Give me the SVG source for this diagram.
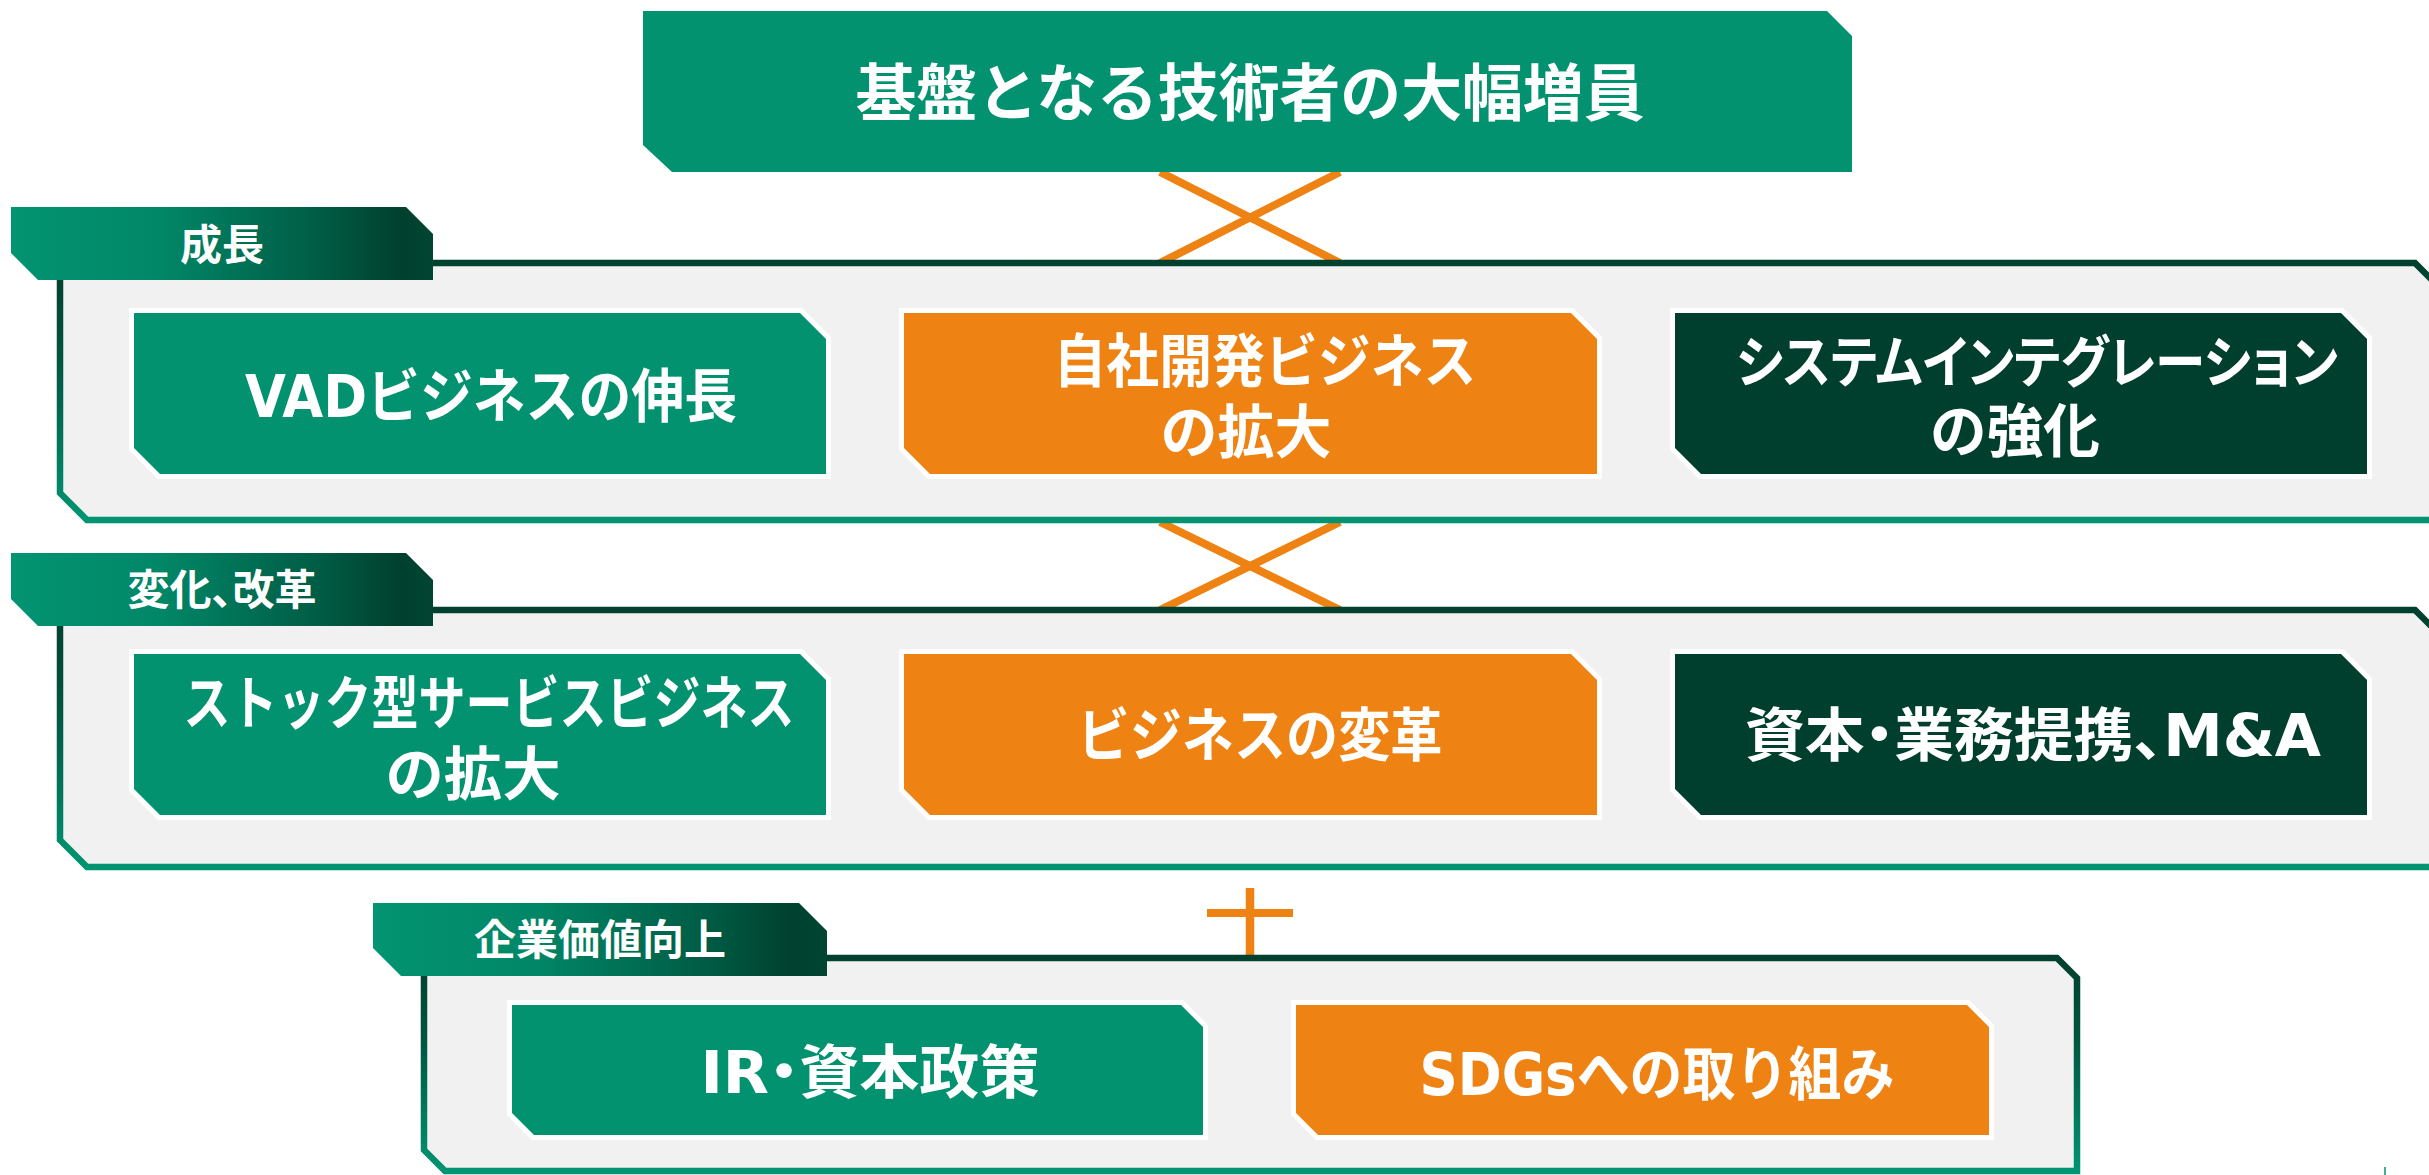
<svg xmlns="http://www.w3.org/2000/svg" width="2429" height="1175" viewBox="0 0 2429 1175">
  <defs>
    <linearGradient id="frameGrad" x1="0" y1="0" x2="0" y2="1">
      <stop offset="0" stop-color="#00402E"/>
      <stop offset="0.35" stop-color="#00533D"/>
      <stop offset="1" stop-color="#009472"/>
    </linearGradient>
    <linearGradient id="tabGrad" x1="0" y1="0" x2="1" y2="0">
      <stop offset="0" stop-color="#039472"/>
      <stop offset="0.35" stop-color="#018767"/>
      <stop offset="0.75" stop-color="#005A43"/>
      <stop offset="0.92" stop-color="#00402E"/>
      <stop offset="1" stop-color="#004532"/>
    </linearGradient>
    <style>
      .frame { fill: #F1F1F1; stroke: url(#frameGrad); stroke-width: 6.5; }
      .tab { fill: url(#tabGrad); }
      .box { stroke: #FFFFFF; stroke-width: 10; paint-order: stroke; stroke-linejoin: miter; }
      .teal { fill: #02926F; }
      .orange { fill: #EE8313; }
      .dark { fill: #003F2D; }
      .t { font-family: "Noto Sans CJK JP", "Noto Sans", sans-serif; font-weight: 700; fill: #FFFFFF; text-anchor: middle; }
      .title { font-size: 62px; }
      .tabt { font-size: 42px; }
      .bt { font-size: 58px; font-family: "DejaVu Sans", "Noto Sans CJK JP", sans-serif; }
      .palt { font-feature-settings: "palt" 1; }
      .conn { stroke: #EE8313; stroke-width: 8; fill: none; }
    </style>
  </defs>

  <g id="connectors">
    <line class="conn" x1="1160" y1="172" x2="1340" y2="263"/>
    <line class="conn" x1="1340" y1="172" x2="1160" y2="263"/>
    <line class="conn" x1="1160" y1="522" x2="1340" y2="610"/>
    <line class="conn" x1="1340" y1="522" x2="1160" y2="610"/>
    <line class="conn" x1="1250" y1="888" x2="1250" y2="958" style="stroke-width:8.5"/>
    <line class="conn" x1="1207" y1="913" x2="1293" y2="913"/>
  </g>

  <g id="top-box">
    <polygon class="teal" points="643,11 1827,11 1852,36 1852,172 672,172 643,145"/>
    <text class="t title" x="1250" y="116" textLength="789" lengthAdjust="spacingAndGlyphs">基盤となる技術者の大幅増員</text>
  </g>

  <g id="section-growth">
    <polygon class="frame" points="60,263 2415,263 2442,290 2442,520 87,520 60,493"/>
    <polygon class="tab" points="11,207 406,207 433,234 433,280 38,280 11,253"/>
    <text class="t tabt" x="222" y="260">成長</text>
  </g>
  <g id="node-vad">
    <polygon class="box teal" points="134,313 800,313 826,339 826,474 160,474 134,448"/>
    <text class="t bt" x="491" y="417" textLength="492" lengthAdjust="spacingAndGlyphs">VADビジネスの伸長</text>
  </g>
  <g id="node-own-dev">
    <polygon class="box orange" points="904,313 1571,313 1597,339 1597,474 930,474 904,448"/>
    <text class="t bt" x="1265" y="382" textLength="423" lengthAdjust="spacingAndGlyphs">自社開発ビジネス</text>
    <text class="t bt" x="1246" y="453" textLength="171" lengthAdjust="spacingAndGlyphs">の拡大</text>
  </g>
  <g id="node-si">
    <polygon class="box dark" points="1675,313 2341,313 2367,339 2367,474 1701,474 1675,448"/>
    <text class="t bt palt" x="2037" y="382" style="font-size:56px" textLength="602" lengthAdjust="spacingAndGlyphs">システムインテグレーション</text>
    <text class="t bt" x="2015" y="452" textLength="170" lengthAdjust="spacingAndGlyphs">の強化</text>
  </g>

  <g id="section-change">
    <polygon class="frame" points="60,610 2415,610 2442,637 2442,867 87,867 60,840"/>
    <polygon class="tab" points="11,553 406,553 433,580 433,626 38,626 11,599"/>
    <text class="t tabt palt" x="222" y="605">変化、改革</text>
  </g>
  <g id="node-stock">
    <polygon class="box teal" points="134,654 800,654 826,680 826,815 160,815 134,789"/>
    <text class="t bt" x="489" y="724" textLength="611" lengthAdjust="spacingAndGlyphs">ストック型サービスビジネス</text>
    <text class="t bt" x="473" y="795" textLength="175" lengthAdjust="spacingAndGlyphs">の拡大</text>
  </g>
  <g id="node-reform">
    <polygon class="box orange" points="904,654 1571,654 1597,680 1597,815 930,815 904,789"/>
    <text class="t bt" x="1260" y="756" textLength="365" lengthAdjust="spacingAndGlyphs">ビジネスの変革</text>
  </g>
  <g id="node-alliance">
    <polygon class="box dark" points="1675,654 2341,654 2367,680 2367,815 1701,815 1675,789"/>
    <text class="t bt palt" x="2033" y="756" textLength="576" lengthAdjust="spacingAndGlyphs">資本・業務提携、M&amp;A</text>
  </g>

  <g id="section-value">
    <polygon class="frame" points="424,958 2057,958 2077,978 2077,1171 445,1171 424,1150"/>
    <polygon class="tab" points="373,903 799,903 827,931 827,976 401,976 373,948"/>
    <text class="t tabt" x="600" y="955">企業価値向上</text>
  </g>
  <g id="node-ir">
    <polygon class="box teal" points="512,1005 1181,1005 1203,1027 1203,1135 534,1135 512,1113"/>
    <text class="t bt palt" x="870" y="1093" textLength="339" lengthAdjust="spacingAndGlyphs">IR・資本政策</text>
  </g>
  <g id="node-sdgs">
    <polygon class="box orange" points="1296,1005 1967,1005 1989,1027 1989,1135 1318,1135 1296,1113"/>
    <text class="t bt" x="1657" y="1095" textLength="475" lengthAdjust="spacingAndGlyphs">SDGsへの取り組み</text>
  </g>

  <line x1="2385" y1="1167" x2="2385" y2="1175" stroke="#02926F" stroke-width="1.5"/>
</svg>
